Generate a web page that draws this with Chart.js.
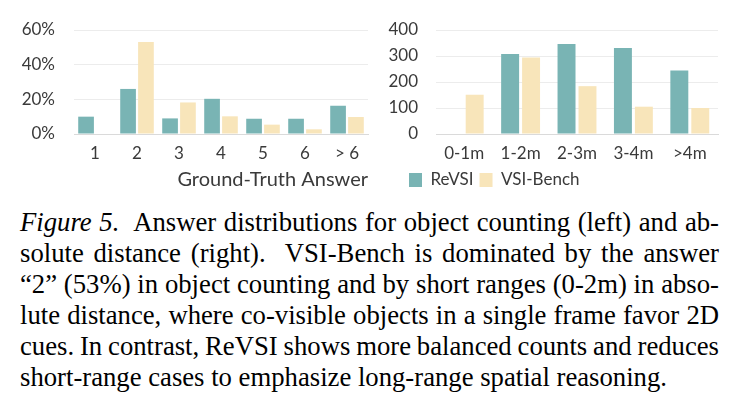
<!DOCTYPE html>
<html>
<head>
<meta charset="utf-8">
<script src="https://cdn.jsdelivr.net/npm/chart.js@4.4.1/dist/chart.umd.min.js"></script>
<style>
  html, body { margin: 0; padding: 0; background: #fff; width: 738px; height: 404px; overflow: hidden; }
  #c1 { position: absolute; left: 0; top: 0; }
  #c2 { position: absolute; left: 370px; top: 0; }
  #caption { position: absolute; left: 20px; top: 206.5px; width: 699px;
    font-family: "Liberation Serif", "Times New Roman", serif; font-size: 26.7px; line-height: 31px; color: #000; }
  #caption .ln { white-space: nowrap; height: 31px; }
</style>
</head>
<body>
<canvas id="c1" width="370" height="200" style="width:370px;height:200px"></canvas>
<canvas id="c2" width="368" height="200" style="width:368px;height:200px"></canvas>
<div id="caption">
  <div class="ln"><span><i>Figure 5.</i>&nbsp; Answer distributions for object counting (left) and ab-</span></div>
  <div class="ln"><span>solute distance (right).&nbsp; VSI-Bench is dominated by the answer</span></div>
  <div class="ln"><span>“2” (53%) in object counting and by short ranges (0-2m) in abso-</span></div>
  <div class="ln"><span>lute distance, where co-visible objects in a single frame favor 2D</span></div>
  <div class="ln"><span>cues. In contrast, ReVSI shows more balanced counts and reduces</span></div>
  <div class="ln last"><span>short-range cases to emphasize long-range spatial reasoning.</span></div>
</div>
<script>
const seriesNames = ['ReVSI', 'VSI-Bench'];

const countCategories = ['1', '2', '3', '4', '5', '6', '> 6'];
const countReVSI = [10, 26, 9, 20.3, 8.8, 8.8, 16.3];
const countVSIBench = [0, 53.1, 18.2, 10.2, 5.4, 2.7, 9.8];
const countTicks = [0, 20, 40, 60];

const distCategories = ['0-1m', '1-2m', '2-3m', '3-4m', '>4m'];
const distReVSI = [0, 308, 346, 331, 244];
const distVSIBench = [151, 294, 184, 105, 100];
const distTicks = [0, 100, 200, 300, 400];

// justify caption lines to the full column width
(function justifyCaption() {
  const W = 699;
  document.querySelectorAll('#caption .ln').forEach(el => {
    if (el.classList.contains('last')) return;
    const span = el.querySelector('span');
    const w = span.getBoundingClientRect().width;
    const n = (span.textContent.match(/[ \u00a0]/g) || []).length;
    if (n > 0) span.style.wordSpacing = ((W - w) / n) + 'px';
  });
})();

const TEAL = '#79b4b4';
const CREAM = '#f8e5ba';
const TEXT = '#3a3a3a';
const GRID = '#ececec';
const BASE = '#dadada';

Chart.defaults.font.family = 'Lato, "Open Sans", sans-serif';
Chart.defaults.color = TEXT;

const tickFont = { family: 'Lato', size: 17 };

function fixedTicks(arr) {
  return (s) => { s.ticks = arr.map(v => ({ value: v })); };
}

new Chart(document.getElementById('c1'), {
  type: 'bar',
  data: {
    labels: countCategories,
    datasets: [
      { label: seriesNames[0], data: countReVSI, backgroundColor: TEAL },
      { label: seriesNames[1], data: countVSIBench, backgroundColor: CREAM }
    ]
  },
  options: {
    responsive: false, animation: false, devicePixelRatio: 1,
    datasets: { bar: { categoryPercentage: 0.852, barPercentage: 0.877 } },
    layout: { padding: { left: 0, right: 2, top: 30, bottom: 0 } },
    plugins: { legend: { display: false }, tooltip: { enabled: false } },
    scales: {
      x: {
        grid: { display: false, drawTicks: false },
        border: { display: true, color: BASE, width: 1 },
        ticks: { font: tickFont, color: TEXT, padding: 9, autoSkip: false, maxRotation: 0 },
        title: { display: true, text: 'Ground-Truth Answer', align: 'end', color: TEXT,
                 font: { family: 'Lato', size: 20 }, padding: { top: 0, bottom: 8 } },
        afterFit: (s) => { s.height = 66; }
      },
      y: {
        min: 0, max: 60,
        afterBuildTicks: fixedTicks(countTicks),
        grid: { color: (c) => c.tick && c.tick.value === 0 ? BASE : GRID, drawTicks: false },
        border: { display: false },
        ticks: { font: tickFont, color: TEXT, padding: 19, callback: (v) => v + '%' },
        afterFit: (s) => { s.width = 74; }
      }
    }
  }
});

const legendShift = {
  id: 'legendShift',
  afterLayout(chart) {
    if (chart.legend) chart.legend.left = 33;
  }
};

new Chart(document.getElementById('c2'), {
  type: 'bar',
  data: {
    labels: distCategories,
    datasets: [
      { label: seriesNames[0], data: distReVSI, backgroundColor: TEAL },
      { label: seriesNames[1], data: distVSIBench, backgroundColor: CREAM }
    ]
  },
  plugins: [legendShift],
  options: {
    responsive: false, animation: false, devicePixelRatio: 1,
    datasets: { bar: { categoryPercentage: 0.743, barPercentage: 0.857 } },
    layout: { padding: { left: 0, right: 20, top: 30, bottom: 1.5 } },
    plugins: {
      tooltip: { enabled: false },
      legend: {
        display: true, position: 'bottom', align: 'start',
        labels: { boxWidth: 13, boxHeight: 14, padding: 6, color: TEXT, font: { family: 'Lato', size: 17 } }
      }
    },
    scales: {
      x: {
        grid: { display: false, drawTicks: false },
        border: { display: true, color: BASE, width: 1 },
        ticks: { font: tickFont, color: TEXT, padding: 9, autoSkip: false, maxRotation: 0 },
        afterFit: (s) => { s.height = 31.5; }
      },
      y: {
        min: 0, max: 400,
        afterBuildTicks: fixedTicks(distTicks),
        grid: { color: (c) => c.tick && c.tick.value === 0 ? BASE : GRID, drawTicks: false },
        border: { display: false },
        ticks: { font: tickFont, color: TEXT, padding: 18 },
        afterFit: (s) => { s.width = 66; }
      }
    }
  }
});
</script>
</body>
</html>
